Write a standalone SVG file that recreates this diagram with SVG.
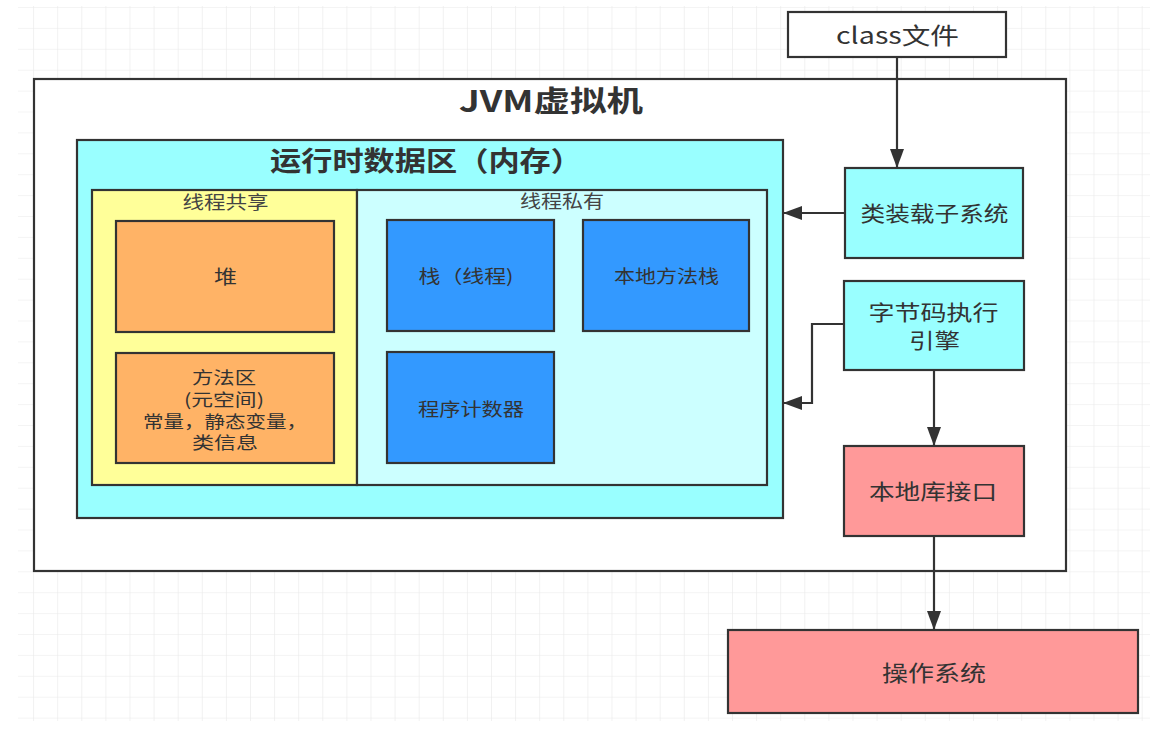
<svg xmlns="http://www.w3.org/2000/svg" width="1160" height="730" viewBox="0 0 1160 730">
<defs>
<pattern id="grid" patternUnits="userSpaceOnUse" x="9" y="7" width="24.1" height="20.9">
<path d="M0,0 H24.1 M0,0 V20.9" fill="none" stroke="#e9e9e9" stroke-width="1.2"/>
</pattern>
<marker id="arr" markerUnits="userSpaceOnUse" markerWidth="22" markerHeight="16" refX="19" refY="7" orient="auto">
<path d="M0,0 L19,7 L0,14 z" fill="#333"/>
</marker>
<style>
.box{stroke:#333;stroke-width:2.2}
.t{font-family:"Noto Sans CJK SC","Liberation Sans",sans-serif;fill:#333;text-anchor:middle}
.b{font-weight:bold}
.g{fill:#444}
.conn path{fill:none;stroke:#333;stroke-width:2.2;marker-end:url(#arr)}
</style>
</defs>
<rect width="1160" height="730" fill="#fff"/>
<rect x="18" y="6" width="1132" height="715" fill="url(#grid)"/>

<g id="jvm">
<rect class="box" x="34" y="79" width="1032" height="492" fill="#fff"/>
<text class="t b" x="551" y="112" font-size="29" textLength="184" lengthAdjust="spacingAndGlyphs">JVM虚拟机</text>
</g>
<g id="runtime">
<rect class="box" x="77" y="140" width="706" height="378" fill="#99FFFF"/>
<text class="t b" x="426" y="171" font-size="27" textLength="312" lengthAdjust="spacingAndGlyphs">运行时数据区（内存）</text>
</g>
<g id="shared">
<rect class="box" x="92" y="190" width="265" height="295" fill="#FFFF99"/>
<text class="t g" x="225.5" y="209" font-size="18" textLength="86" lengthAdjust="spacingAndGlyphs">线程共享</text>
</g>
<g id="private">
<rect class="box" x="357" y="190" width="410" height="295" fill="#CCFFFF"/>
<text class="t g" x="562" y="208" font-size="18" textLength="84" lengthAdjust="spacingAndGlyphs">线程私有</text>
</g>
<g id="heap">
<rect class="box" x="116" y="221" width="218" height="111" fill="#FFB366"/>
<text class="t" x="225.5" y="284" font-size="19" textLength="23" lengthAdjust="spacingAndGlyphs">堆</text>
</g>
<g id="method">
<rect class="box" x="116" y="353" width="218" height="110" fill="#FFB366"/>
<text class="t" x="224" y="384" font-size="17" textLength="64" lengthAdjust="spacingAndGlyphs">方法区</text>
<text class="t" x="224" y="406" font-size="17" textLength="80" lengthAdjust="spacingAndGlyphs">(元空间)</text>
<text class="t" x="225" y="428" font-size="17" textLength="164" lengthAdjust="spacingAndGlyphs">常量，静态变量，</text>
<text class="t" x="225" y="449" font-size="17" textLength="66" lengthAdjust="spacingAndGlyphs">类信息</text>
</g>
<g id="stack">
<rect class="box" x="387" y="220" width="167" height="111" fill="#3399FF"/>
<text class="t" x="466" y="283" font-size="18" textLength="95" lengthAdjust="spacingAndGlyphs">栈（线程)</text>
</g>
<g id="nstack">
<rect class="box" x="583" y="220" width="166" height="111" fill="#3399FF"/>
<text class="t" x="666.5" y="283" font-size="18" textLength="105" lengthAdjust="spacingAndGlyphs">本地方法栈</text>
</g>
<g id="pc">
<rect class="box" x="387" y="352" width="167" height="111" fill="#3399FF"/>
<text class="t" x="471" y="416" font-size="18" textLength="106" lengthAdjust="spacingAndGlyphs">程序计数器</text>
</g>
<g id="classfile">
<rect class="box" x="788" y="12" width="218" height="45" fill="#fff"/>
<text class="t" x="897.5" y="44" font-size="23" textLength="123" lengthAdjust="spacingAndGlyphs">class文件</text>
</g>
<g id="loader">
<rect class="box" x="845" y="168" width="178" height="90" fill="#99FFFF"/>
<text class="t" x="934.5" y="221" font-size="21" textLength="148" lengthAdjust="spacingAndGlyphs">类装载子系统</text>
</g>
<g id="engine">
<rect class="box" x="844" y="281" width="180" height="89" fill="#99FFFF"/>
<text class="t" x="933.5" y="320" font-size="21" textLength="130" lengthAdjust="spacingAndGlyphs">字节码执行</text>
<text class="t" x="934.5" y="348" font-size="21" textLength="51" lengthAdjust="spacingAndGlyphs">引擎</text>
</g>
<g id="nativelib">
<rect class="box" x="844" y="446" width="180" height="90" fill="#FF9999"/>
<text class="t" x="933" y="499" font-size="21" textLength="128" lengthAdjust="spacingAndGlyphs">本地库接口</text>
</g>
<g id="os">
<rect class="box" x="728" y="630" width="410" height="83" fill="#FF9999"/>
<text class="t" x="934" y="681" font-size="22" textLength="104" lengthAdjust="spacingAndGlyphs">操作系统</text>
</g>

<g id="connectors" class="conn">
<path d="M897,57 V168"/>
<path d="M845,213 H783"/>
<path d="M844,324 H812 V403 H783"/>
<path d="M934,370 V446"/>
<path d="M934,536 V630"/>
</g>
</svg>
